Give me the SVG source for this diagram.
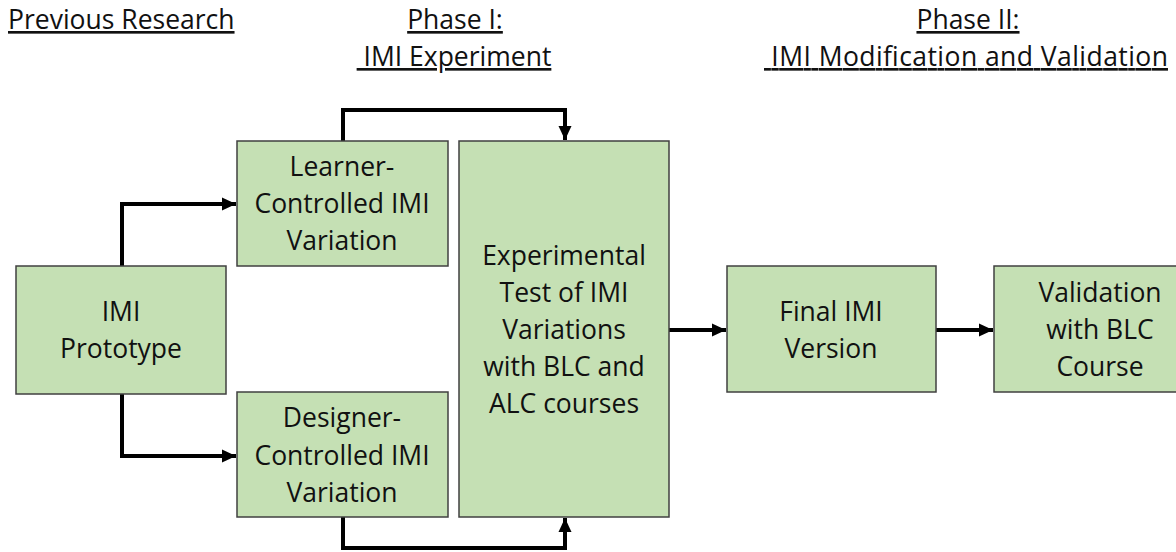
<svg xmlns="http://www.w3.org/2000/svg" width="1176" height="552" viewBox="0 0 1176 552">
<defs>
<style>
.box{fill:#c5e0b4;stroke:#404040;stroke-width:1.5}
.t{font-family:"Open Sans","Liberation Sans",sans-serif;font-size:26.5px;fill:#111;text-anchor:middle}
.h{font-family:"Open Sans","Liberation Sans",sans-serif;font-size:26.5px;fill:#111;text-decoration:underline}
.c{fill:none;stroke:#000;stroke-width:4;stroke-linejoin:miter}
</style>
<marker id="ah" markerUnits="userSpaceOnUse" markerWidth="16" markerHeight="16" refX="14" refY="8" orient="auto">
<path d="M0,1.5 L14,8 L0,14.5 Z" fill="#000"/>
</marker>
</defs>
<rect width="1176" height="552" fill="#fff"/>
<g id="headers">
<text class="h" x="8" y="29">Previous Research</text>
<text class="h" x="455" y="29" text-anchor="middle">Phase I:</text>
<text class="h" x="454" y="66" text-anchor="middle">&#160;IMI Experiment</text>
<text class="h" x="968" y="29" text-anchor="middle">Phase II:</text>
<text class="h" x="966" y="66" text-anchor="middle" textLength="404">&#160;IMI Modification and Validation</text>
</g>
<g id="connectors">
<path class="c" d="M122,266 V204 H236" marker-end="url(#ah)"/>
<path class="c" d="M122,394 V456 H236" marker-end="url(#ah)"/>
<path class="c" d="M343,141 V110 H565 V140" marker-end="url(#ah)"/>
<path class="c" d="M343,517 V548 H565 V518" marker-end="url(#ah)"/>
<path class="c" d="M669,330 H726" marker-end="url(#ah)"/>
<path class="c" d="M936,330 H993" marker-end="url(#ah)"/>
</g>
<g id="imi-prototype">
<rect class="box" x="16" y="266" width="210" height="128"/>
<text class="t" x="121" y="321">IMI</text>
<text class="t" x="121" y="358">Prototype</text>
</g>
<g id="learner">
<rect class="box" x="237" y="141" width="211" height="125"/>
<text class="t" x="342" y="176">Learner-</text>
<text class="t" x="342" y="213">Controlled IMI</text>
<text class="t" x="342" y="250">Variation</text>
</g>
<g id="designer">
<rect class="box" x="237" y="392" width="211" height="125"/>
<text class="t" x="342" y="427">Designer-</text>
<text class="t" x="342" y="465">Controlled IMI</text>
<text class="t" x="342" y="502">Variation</text>
</g>
<g id="experimental">
<rect class="box" x="459" y="141" width="210" height="376"/>
<text class="t" x="564" y="265">Experimental</text>
<text class="t" x="564" y="302">Test of IMI</text>
<text class="t" x="564" y="339">Variations</text>
<text class="t" x="564" y="376">with BLC and</text>
<text class="t" x="564" y="413">ALC courses</text>
</g>
<g id="final">
<rect class="box" x="727" y="266" width="209" height="126"/>
<text class="t" x="831" y="321">Final IMI</text>
<text class="t" x="831" y="358">Version</text>
</g>
<g id="validation">
<rect class="box" x="994" y="266" width="212" height="126"/>
<text class="t" x="1100" y="302">Validation</text>
<text class="t" x="1100" y="339">with BLC</text>
<text class="t" x="1100" y="376">Course</text>
</g>
</svg>
